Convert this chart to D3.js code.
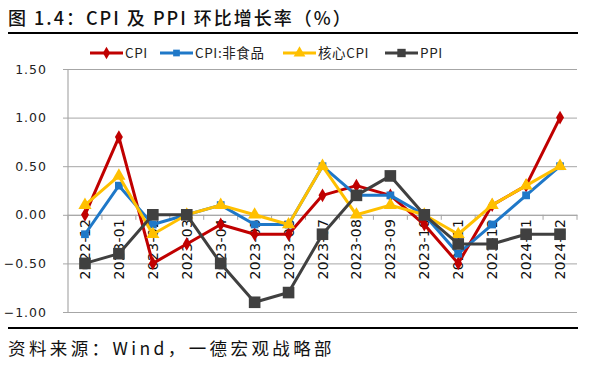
<!DOCTYPE html>
<html><head><meta charset="utf-8">
<script src="https://cdn.jsdelivr.net/npm/d3@7"></script>
<style>body{margin:0;background:#fff}svg{display:block}</style>
</head><body>
<svg id="c" width="594" height="366"></svg>
<script>
const categories = ["2022-12","2023-01","2023-02","2023-03","2023-04","2023-05","2023-06","2023-07","2023-08","2023-09","2023-10","2023-11","2023-12","2024-01","2024-02"];
const cpi     = [0.0, 0.8, -0.5, -0.3, -0.1, -0.2, -0.2, 0.2, 0.3, 0.2, -0.1, -0.5, 0.1, 0.3, 1.0];
const nonFood = [-0.2, 0.3, -0.1, 0.0, 0.1, -0.1, -0.1, 0.5, 0.2, 0.2, 0.0, -0.4, -0.1, 0.2, 0.5];
const coreCpi = [0.1, 0.4, -0.2, 0.0, 0.1, 0.0, -0.1, 0.5, 0.0, 0.1, 0.0, -0.2, 0.1, 0.3, 0.5];
const ppi     = [-0.5, -0.4, 0.0, 0.0, -0.5, -0.9, -0.8, -0.2, 0.2, 0.4, 0.0, -0.3, -0.3, -0.2, -0.2];
const yTicks  = [-1.0, -0.5, 0.0, 0.5, 1.0, 1.5];
const seriesNames = ["CPI", "CPI:非食品", "核心CPI", "PPI"];

const svg = d3.select("#c");
const L = 68, R = 577, T = 69, B = 312;
const x = d3.scaleBand().domain(categories).range([L, R]);
const y = d3.scaleLinear().domain([-1, 1.5]).range([B, T]);

// title
svg.append("text").attr("x", 8).attr("y", 25).attr("font-family", "Noto Sans CJK SC")
  .attr("font-size", 18).attr("font-weight", 500).attr("fill", "#111").attr("letter-spacing", 2)
  .text("图 1.4：CPI 及 PPI 环比增长率（%）");
svg.append("line").attr("x1", 8).attr("x2", 578).attr("y1", 33).attr("y2", 33)
  .attr("stroke", "#000").attr("stroke-width", 2);
svg.append("line").attr("x1", 8).attr("x2", 578).attr("y1", 328).attr("y2", 328)
  .attr("stroke", "#000").attr("stroke-width", 2);
svg.append("text").attr("x", 8).attr("y", 355).attr("font-family", "Noto Sans CJK SC")
  .attr("font-size", 17.5).attr("fill", "#111").attr("letter-spacing", 3.4)
  .text("资料来源：Wind，一德宏观战略部");

// gridlines
const yAxis = d3.axisLeft(y).tickValues(yTicks).tickFormat(d3.format(".2f"))
  .tickSize(-(R - L)).tickPadding(21);
const gy = svg.append("g").attr("transform", `translate(${L},0)`).call(yAxis);
gy.select(".domain").attr("stroke", "#999").attr("d", `M0,${T}V${B}`);
gy.selectAll(".tick line").attr("stroke", "#a6a6a6").attr("x1", -5);
gy.selectAll(".tick text").attr("font-family", "DejaVu Sans").attr("font-size", 12.5)
  .attr("letter-spacing", 1).attr("fill", "#222");

// x axis at zero
const xAxis = d3.axisBottom(x).tickSize(0).tickFormat("");
const gx = svg.append("g").attr("transform", `translate(0,${y(0)})`).call(xAxis);
gx.select(".domain").attr("stroke", "#a6a6a6");
const bounds = categories.map((c) => x(c)).concat([R]);
gx.selectAll(".bt").data(bounds).join("line").attr("class", "bt")
  .attr("x1", d => d).attr("x2", d => d).attr("y1", 0).attr("y2", 5).attr("stroke", "#a6a6a6");

// series
const colors = ["#C00000", "#1F78C8", "#FFC000", "#404040"];
const data = [cpi, nonFood, coreCpi, ppi];
const line = d3.line().x((d, i) => x(categories[i]) + x.bandwidth() / 2).y(d => y(d));
const symbols = [
  d3.symbol().type(d3.symbolDiamond).size(55),
  d3.symbol().type(d3.symbolSquare).size(60),
  d3.symbol().type(d3.symbolTriangle).size(75),
  d3.symbol().type(d3.symbolSquare).size(135)
];

// category labels
const labG = svg.append("g");
categories.forEach((c) => {
  labG.append("text")
    .attr("transform", `translate(${x(c) + x.bandwidth() / 2 + 5},${y(0) + 4}) rotate(-90)`)
    .attr("text-anchor", "end").attr("font-family", "DejaVu Sans")
    .attr("font-size", 14).attr("letter-spacing", 0.3).attr("fill", "#111").text(c);
});

data.forEach((s, k) => {
  const g = svg.append("g");
  g.append("path").datum(s).attr("d", line).attr("fill", "none")
    .attr("stroke", colors[k]).attr("stroke-width", 3).attr("stroke-linejoin", "round");
  g.selectAll("path.m").data(s).join("path").attr("class", "m")
    .attr("transform", (d, i) => `translate(${x(categories[i]) + x.bandwidth() / 2},${y(d)})`)
    .attr("d", symbols[k]()).attr("fill", colors[k]);
});

// legend
const legX = [90, 160, 283, 385];
const lg = svg.append("g").attr("transform", "translate(0,53)");
seriesNames.forEach((n, k) => {
  lg.append("line").attr("x1", legX[k]).attr("x2", legX[k] + 33).attr("y1", 0).attr("y2", 0)
    .attr("stroke", colors[k]).attr("stroke-width", 3);
  lg.append("path").attr("transform", `translate(${legX[k] + 16.5},0)`)
    .attr("d", d3.symbol().type([d3.symbolDiamond, d3.symbolSquare, d3.symbolTriangle, d3.symbolSquare][k]).size([45, 45, 60, 70][k])())
    .attr("fill", colors[k]);
  lg.append("text").attr("x", legX[k] + 35).attr("y", 5).attr("font-family", "Noto Sans CJK SC, Liberation Sans")
    .attr("font-size", 13.5).attr("letter-spacing", 0.6).attr("fill", "#222").text(n);
});
</script>
</body></html>
